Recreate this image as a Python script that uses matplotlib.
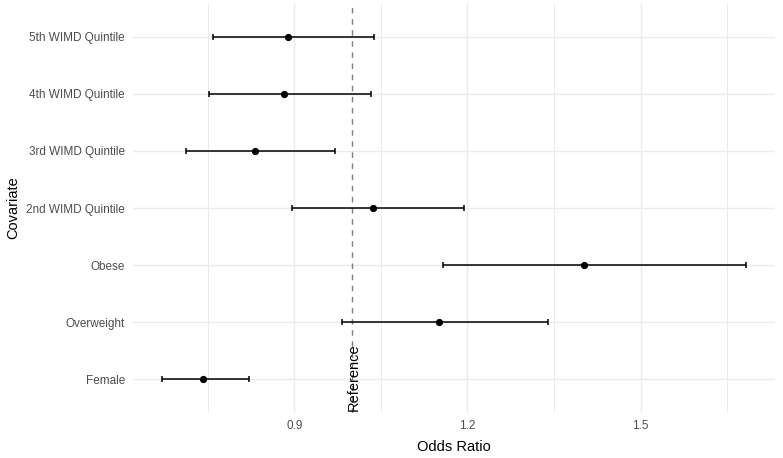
import numpy as np
import matplotlib
matplotlib.use("Agg")
import matplotlib.pyplot as plt
from matplotlib.ticker import FixedLocator

plt.rcParams['font.family'] = ['Liberation Sans', 'DejaVu Sans']

# bottom to top
covariates = ["Female", "Overweight", "Obese", "2nd WIMD Quintile",
              "3rd WIMD Quintile", "4th WIMD Quintile", "5th WIMD Quintile"]
odds = [0.7425, 1.151, 1.402, 1.0357, 0.8325, 0.883, 0.890]
ci_low = [0.6716, 0.983, 1.158, 0.8965, 0.713, 0.752, 0.759]
ci_high = [0.822, 1.340, 1.682, 1.1948, 0.971, 1.033, 1.039]
ref_value = 1.0

fig = plt.figure(figsize=(7.83, 4.58), dpi=100)
ax = fig.add_axes((0.170, 0.0978, 0.8198, 0.8961))

y = np.arange(1, len(covariates) + 1)
odds = np.array(odds)
lo = odds - np.array(ci_low)
hi = np.array(ci_high) - odds

ax.axvline(ref_value, color='#7f7f7f', linestyle=(0, (4, 4)), linewidth=1.0, zorder=2)
ax.errorbar(odds, y, xerr=[lo, hi], fmt='o', color='black', ecolor='black',
            markersize=4.2, elinewidth=1.1, capsize=2.2, capthick=1.1, zorder=3)

ax.text(ref_value + 0.0025, 0.43, "Reference", rotation=90, ha='center', va='bottom',
        fontsize=10.56, color='black', zorder=4)

lo_all = min(ci_low)
hi_all = max(ci_high)
pad = (hi_all - lo_all) * 0.05
ax.set_xlim(lo_all - pad, hi_all + pad)
ax.set_ylim(0.4, len(covariates) + 0.6)

ax.set_yticks(y)
ax.set_yticklabels(covariates)
ax.set_xticks([0.9, 1.2, 1.5])
ax.set_xticklabels(["0.9", "1.2", "1.5"])
ax.xaxis.set_minor_locator(FixedLocator([0.75, 1.05, 1.35, 1.65]))

ax.grid(True, which='major', color='#ebebeb', linewidth=1.0, zorder=0)
ax.grid(True, which='minor', axis='x', color='#ebebeb', linewidth=0.7, zorder=0)
ax.set_axisbelow(True)

for s in ax.spines.values():
    s.set_visible(False)
ax.tick_params(axis='both', which='both', length=0, labelsize=8.45, labelcolor='#4d4d4d')
ax.tick_params(axis='y', pad=6)
ax.tick_params(axis='x', pad=5)

ax.set_xlabel("Odds Ratio", fontsize=10.56, labelpad=6)
ax.set_ylabel("Covariate", fontsize=10.56, labelpad=4)

fig.savefig("out.png", dpi=100)
